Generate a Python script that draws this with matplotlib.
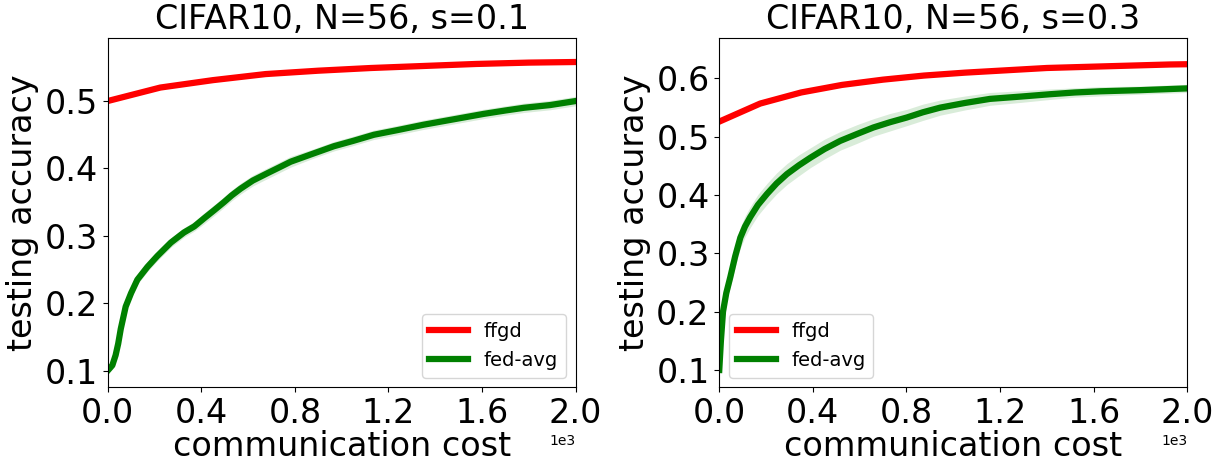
import numpy as np
import matplotlib; matplotlib.use("Agg")
import matplotlib.pyplot as plt

# ── panel 1: s=0.1 ─────────────────────────────────────────────
ffgd_x_1 = [0, 225, 450, 675, 900, 1125, 1350, 1575, 1800, 2025]
ffgd_y_1 = [0.500, 0.520, 0.531, 0.540, 0.545, 0.549, 0.552, 0.555, 0.557, 0.558]
fedavg_x_1 = [0, 20, 34, 45, 56, 77, 100, 127, 170, 212, 270, 326, 370, 412, 455,
              497, 530, 568, 620, 683, 730, 782, 870, 967, 1050, 1138, 1240, 1352,
              1480, 1608, 1700, 1779, 1890, 2000]
fedavg_y_1 = [0.100, 0.108, 0.123, 0.140, 0.162, 0.195, 0.215, 0.235, 0.254, 0.270,
              0.290, 0.305, 0.314, 0.326, 0.338, 0.350, 0.360, 0.370, 0.382, 0.393,
              0.401, 0.410, 0.421, 0.433, 0.441, 0.450, 0.457, 0.465, 0.473, 0.481,
              0.486, 0.490, 0.494, 0.500]
fedavg_sd_1 = [0.004, 0.005, 0.006, 0.007, 0.007, 0.007, 0.007, 0.007, 0.007, 0.007,
               0.007, 0.007, 0.007, 0.008, 0.008, 0.008, 0.008, 0.008, 0.008, 0.008,
               0.008, 0.008, 0.007, 0.007, 0.007, 0.007, 0.007, 0.007, 0.007, 0.007,
               0.007, 0.007, 0.007, 0.007]

# ── panel 2: s=0.3 ─────────────────────────────────────────────
ffgd_x_2 = [0, 175, 350, 525, 700, 875, 1050, 1225, 1400, 1575, 1750, 1925, 2100]
ffgd_y_2 = [0.526, 0.557, 0.576, 0.589, 0.598, 0.605, 0.610, 0.614, 0.618, 0.620,
            0.622, 0.624, 0.625]
fedavg_x_2 = [0, 7, 16, 30, 47, 68, 90, 110, 132, 165, 204, 245, 289, 340, 389,
              450, 517, 590, 659, 730, 801, 870, 944, 1050, 1157, 1290, 1414,
              1520, 1627, 1800, 2000]
fedavg_y_2 = [0.100, 0.150, 0.200, 0.232, 0.259, 0.295, 0.327, 0.346, 0.362, 0.383,
              0.402, 0.420, 0.436, 0.451, 0.464, 0.479, 0.493, 0.505, 0.516, 0.525,
              0.533, 0.542, 0.550, 0.558, 0.565, 0.569, 0.573, 0.576, 0.578, 0.580,
              0.583]
fedavg_sd_2 = [0.005, 0.010, 0.013, 0.015, 0.017, 0.018, 0.018, 0.018, 0.018, 0.018,
               0.018, 0.018, 0.018, 0.018, 0.017, 0.017, 0.016, 0.016, 0.015, 0.015,
               0.014, 0.014, 0.013, 0.012, 0.011, 0.010, 0.009, 0.008, 0.008, 0.007,
               0.007]

TITLES = ["CIFAR10, N=56, s=0.1", "CIFAR10, N=56, s=0.3"]
YTICKS = [[0.1, 0.2, 0.3, 0.4, 0.5], [0.1, 0.2, 0.3, 0.4, 0.5, 0.6]]
YLIMS = [(0.0754, 0.594), (0.0703, 0.670)]
XTICKS = [0, 400, 800, 1200, 1600, 2000]
LEGLOC = ["lower right", "lower left"]

fig = plt.figure(figsize=(12.22, 4.61), dpi=100)
axes = [fig.add_axes([0.0881, 0.1599, 0.383, 0.7584]),
        fig.add_axes([0.5886, 0.1599, 0.383, 0.7584])]

panels = [(ffgd_x_1, ffgd_y_1, fedavg_x_1, fedavg_y_1, fedavg_sd_1),
          (ffgd_x_2, ffgd_y_2, fedavg_x_2, fedavg_y_2, fedavg_sd_2)]

for i, (ax, (fx, fy, gx, gy, gs)) in enumerate(zip(axes, panels)):
    gx = np.array(gx); gy = np.array(gy); gs = np.array(gs)
    ax.plot(fx, fy, color="red", lw=4.5, label="ffgd")
    ax.plot(gx, gy, color="green", lw=4.5, label="fed-avg")
    ax.fill_between(gx, gy - gs, gy + gs, color="green", alpha=0.15, lw=0)
    ax.set_xlim(0, 2000)
    ax.set_ylim(*YLIMS[i])
    ax.set_xticks(XTICKS)
    ax.set_yticks(YTICKS[i])
    ax.ticklabel_format(style="sci", axis="x", scilimits=(0, 0))
    ax.tick_params(labelsize=24)
    ax.xaxis.get_offset_text().set_fontsize(10)
    ax.set_title(TITLES[i], fontsize=24)
    ax.set_xlabel("communication cost", fontsize=24, labelpad=0)
    ax.set_ylabel("testing accuracy", fontsize=24, labelpad=4)
    ax.legend(loc=LEGLOC[i], fontsize=14)

fig.savefig("out.png", dpi=100)
